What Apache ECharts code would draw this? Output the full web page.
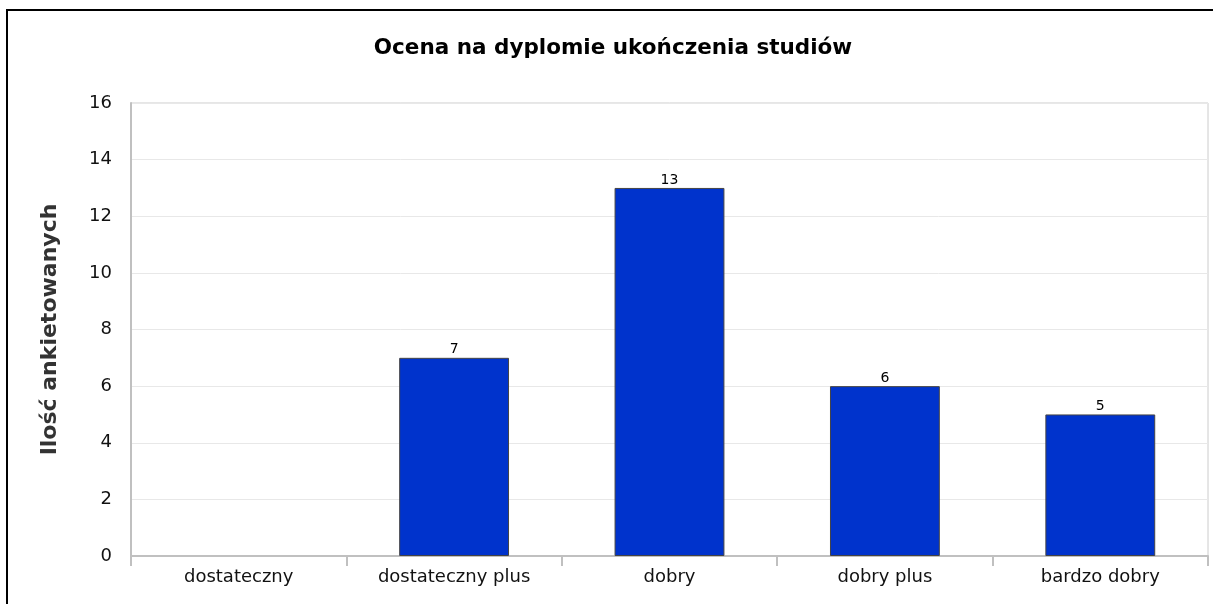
<!DOCTYPE html>
<html>
<head>
<meta charset="utf-8">
<script src="https://cdn.jsdelivr.net/npm/echarts@6/dist/echarts.min.js"></script>
<style>
  html, body { margin: 0; padding: 0; background: #fff; }
  #frame {
    position: absolute; left: 6px; top: 9px; width: 1300px; height: 700px;
    border-left: 2px solid #000; border-top: 2px solid #000;
  }
  #chart { position: absolute; left: 0; top: 0; width: 1213px; height: 604px; }
</style>
</head>
<body>
<div id="frame"></div>
<div id="chart"></div>
<script>
// dane z wykresu
var categories = ["dostateczny", "dostateczny plus", "dobry", "dobry plus", "bardzo dobry"];
var counts = [0, 7, 13, 6, 5];
var yTicks = [0, 2, 4, 6, 8, 10, 12, 14, 16];

var myChart = echarts.init(document.getElementById("chart"));
var options = {
  animation: false,
  title: {
    text: "Ocena na dyplomie ukończenia studiów",
    left: 608,
    textAlign: "center",
    top: 32,
    textStyle: { fontFamily: "DejaVu Sans", fontWeight: "bold", fontSize: 21.5, color: "#000" },
  },
  grid: {
    left: 131,
    right: 5,
    top: 103,
    bottom: 48,
    show: true,
    borderColor: "#cccccc",
    borderWidth: 1,
  },
  xAxis: {
    type: "category",
    data: categories,
    axisLine: { lineStyle: { color: "#c0c0c0", width: 2 } },
    axisTick: { show: true, length: 10, lineStyle: { color: "#c0c0c0", width: 2 } },
    axisLabel: { color: "#111", fontFamily: "DejaVu Sans", fontSize: 18, margin: 12 },
  },
  yAxis: {
    type: "value",
    min: yTicks[0],
    max: yTicks[yTicks.length - 1],
    interval: 2,
    name: "Ilość ankietowanych",
    nameLocation: "middle",
    nameGap: 70,
    nameTextStyle: { fontFamily: "DejaVu Sans", fontWeight: "bold", fontSize: 22, color: "#333" },
    axisLine: { show: true, lineStyle: { color: "#c0c0c0", width: 2 } },
    axisTick: { show: false },
    axisLabel: { color: "#111", fontFamily: "DejaVu Sans", fontSize: 18, margin: 19 },
    splitLine: { lineStyle: { color: "#e8e8e8" } },
  },
  series: [
    {
      type: "bar",
      data: counts.map(function (v) {
        return v > 0 ? v : { value: v, itemStyle: { borderWidth: 0 } };
      }),
      barWidth: "51%",
      itemStyle: { color: "#0033cc", borderColor: "#444", borderWidth: 1 },
      label: {
        show: true,
        position: "top",
        distance: 1,
        color: "#000",
        fontFamily: "DejaVu Sans",
        fontSize: 14,
        formatter: function (p) { return p.value > 0 ? p.value : ""; },
      },
    },
  ],
};
myChart.setOption(options);
</script>
</body>
</html>
